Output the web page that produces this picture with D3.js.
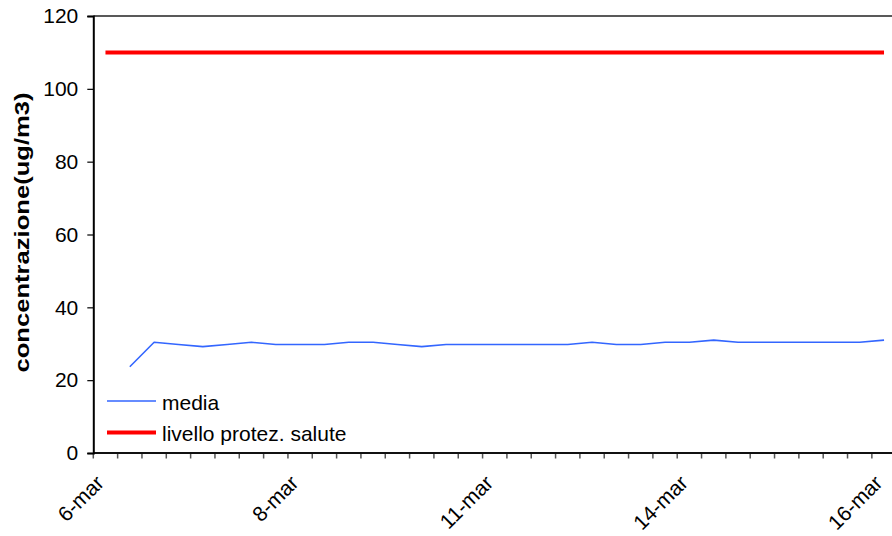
<!DOCTYPE html>
<html>
<head>
<meta charset="utf-8">
<script src="https://cdn.jsdelivr.net/npm/d3@7"></script>
<style>
  html, body { margin: 0; padding: 0; background: #fff; }
  svg { display: block; }
  text { font-family: "Liberation Sans", Arial, sans-serif; fill: #000; }
</style>
</head>
<body>
<script>
// ---- data ----
const categories = d3.range(33);                 // sample index along the x axis
const xLabelIndex = [0, 8, 16, 24, 32];
const xLabels = ["6-mar", "8-mar", "11-mar", "14-mar", "16-mar"];
const media = [null, 23.7, 30.4, 29.8, 29.2, 29.8, 30.4, 29.8, 29.8, 29.8, 30.4,
               30.4, 29.8, 29.2, 29.8, 29.8, 29.8, 29.8, 29.8, 29.8, 30.4,
               29.8, 29.8, 30.4, 30.4, 31.0, 30.4, 30.4, 30.4, 30.4, 30.4,
               30.4, 31.0];
const limite = categories.map(() => 110);
const yTicks = [0, 20, 40, 60, 80, 100, 120];
const seriesNames = ["media", "livello protez. salute"];
const yTitle = "concentrazione(ug/m3)";

// ---- layout ----
const W = 892, H = 536;
const mLeft = 93.3, mTop = 16, mBottom = 453, mRight = 93.3 + 33 * 24.33;

const svg = d3.select("body").append("svg").attr("width", W).attr("height", H);

const x = d3.scaleBand().domain(categories).range([mLeft, mRight]).paddingInner(0).paddingOuter(0);
const cx = k => x(k) + x.bandwidth() / 2;
const y = d3.scaleLinear().domain([0, 120]).range([mBottom, mTop]);

// top border
svg.append("line").attr("x1", mLeft).attr("x2", W).attr("y1", mTop).attr("y2", mTop)
  .attr("stroke", "#222").attr("stroke-width", 1.6);

// x axis ticks at category boundaries
const bounds = categories.map(k => x(k)).concat([mRight]);
svg.append("g").selectAll("line").data(bounds).join("line")
  .attr("x1", d => d).attr("x2", d => d).attr("y1", mBottom).attr("y2", mBottom + 5.5)
  .attr("stroke", "#555").attr("stroke-width", 1.5);
svg.append("line").attr("x1", mLeft).attr("x2", W).attr("y1", mBottom).attr("y2", mBottom)
  .attr("stroke", "#111").attr("stroke-width", 2);

// x labels
svg.append("g").selectAll("text").data(xLabelIndex).join("text")
  .attr("transform", d => `translate(${cx(d) - 5.5},${mBottom + 26}) rotate(-45)`)
  .attr("text-anchor", "end").attr("dy", "0.35em")
  .style("font-size", "21px")
  .text((d, i) => xLabels[i]);

// y axis
const yAxis = d3.axisLeft(y).tickValues(yTicks).tickSize(6).tickPadding(9);
const gy = svg.append("g").attr("transform", `translate(${mLeft},0)`).call(yAxis);
gy.select(".domain").attr("stroke", "#000").attr("stroke-width", 2);
gy.selectAll(".tick line").attr("stroke", "#000").attr("stroke-width", 1.2);
gy.selectAll(".tick text").style("font-size", "21px")
  .style("font-family", "'Liberation Sans', Arial, sans-serif").attr("fill", "#000");

// y title
svg.append("text")
  .attr("transform", `translate(29,${(mTop + mBottom) / 2 - 2}) rotate(-90)`)
  .attr("text-anchor", "middle")
  .style("font-size", "20px").style("font-weight", "bold")
  .attr("textLength", 280).attr("lengthAdjust", "spacingAndGlyphs")
  .text(yTitle);

// series
const line = d3.line().defined(d => d.v != null).x(d => cx(d.k)).y(d => y(d.v));
svg.append("path")
  .datum(categories.map(k => ({ k, v: limite[k] })))
  .attr("d", line).attr("fill", "none").attr("stroke", "#ff0000").attr("stroke-width", 4);
svg.append("path")
  .datum(categories.map(k => ({ k, v: media[k] })))
  .attr("d", line).attr("fill", "none").attr("stroke", "#3366ff").attr("stroke-width", 1.6)
  .attr("stroke-linejoin", "round");

// legend
const legendColors = ["#3366ff", "#ff0000"];
const legendWidths = [1.6, 4];
const lg = svg.append("g");
seriesNames.forEach((name, i) => {
  const ly = 401 + i * 31.5;
  lg.append("line").attr("x1", 107).attr("x2", 156).attr("y1", ly).attr("y2", ly)
    .attr("stroke", legendColors[i]).attr("stroke-width", legendWidths[i]);
  lg.append("text").attr("x", 162).attr("y", ly + 8.5).style("font-size", "21px").text(name);
});
</script>
</body>
</html>
